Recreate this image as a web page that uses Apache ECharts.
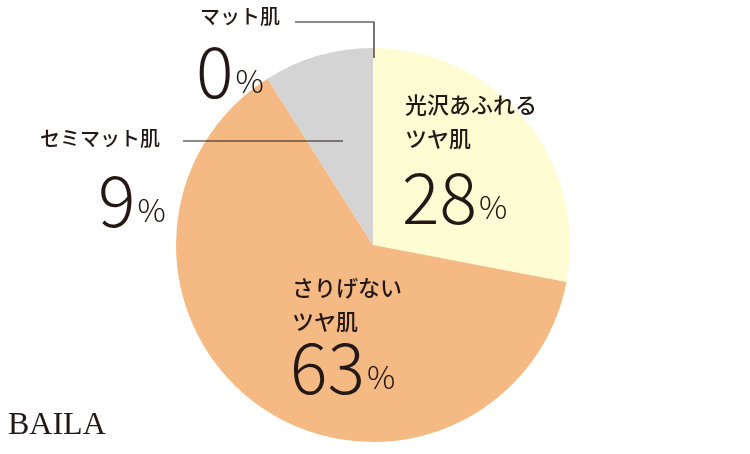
<!DOCTYPE html>
<html><head><meta charset="utf-8">
<script src="https://cdn.jsdelivr.net/npm/echarts@6/dist/echarts.min.js"></script>
<style>html,body{margin:0;padding:0;background:#fff}#c{width:750px;height:454px}</style>
</head><body><div id="c"></div>
<script>
const categories = ['光沢あふれるツヤ肌', 'さりげないツヤ肌', 'セミマット肌', 'マット肌'];
const values = [28, 63, 9, 0];
const colors = ['#fefcd3', '#f5b983', '#d4d4d4', '#ffffff'];
const labelLines = [['光沢あふれる', 'ツヤ肌'], ['さりげない', 'ツヤ肌'], ['セミマット肌'], ['マット肌']];

const chart = echarts.init(document.getElementById('c'));
const F = '"Noto Sans CJK JP", "Noto Sans", sans-serif';
function block(x, y, lines, val, nameSize, numSize, nx, ny) {
  const els = [];
  lines.forEach((t, i) => els.push({type:'text', z:100, left:x, top:y + i*34, style:{text:t, font:`500 ${nameSize}px ${F}`, fill:'#231815'}}));
  els.push({type:'text', z:100, left:nx, top:ny, style:{
    text:`{n|${val}}{p|%}`, rich:{n:{font:`300 ${numSize}px ${F}`, fill:'#231815'}, p:{font:`300 ${numSize*0.45}px ${F}`, fill:'#231815', padding:[numSize*0.3,0,0,2]}}}});
  return els;
}
chart.setOption({
  animation:false,
  series:[{type:'pie', z:1, center:[373,245], radius:197, startAngle:90, clockwise:true,
    label:{show:false}, labelLine:{show:false}, minAngle:0,
    data: categories.map((c,i)=>({name:c, value:values[i], itemStyle:{color:colors[i]}}))}],
  graphic:[
    ...block(405, 94, labelLines[0], values[0], 22, 70, 402, 162),
    ...block(292, 277, labelLines[1], values[1], 22, 70, 290, 332),
    ...block(40, 128, labelLines[2], values[2], 20, 70, 98, 165),
    ...block(200, 6, labelLines[3], values[3], 20, 70, 196, 36),
    {type:'polyline', z:100, shape:{points:[[183,141],[343,141]]}, style:{stroke:'#231815', lineWidth:1.2}},
    {type:'polyline', z:100, shape:{points:[[295,22],[374,22],[374,58]]}, style:{stroke:'#231815', lineWidth:1.2, fill:null}},
    {type:'text', z:100, left:8, top:410, style:{text:'BAILA', font:'400 32px "Liberation Serif", "DejaVu Serif", serif', fill:'#231815'}}
  ]
});
</script></body></html>
